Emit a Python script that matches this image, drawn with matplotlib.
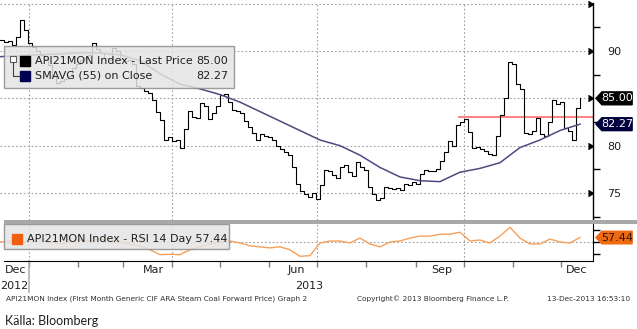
import numpy as np
import pandas as pd
import matplotlib
matplotlib.use("Agg")
import matplotlib.pyplot as plt
import matplotlib.dates as mdates
from matplotlib.patches import Polygon, Rectangle

# Periodo del grafico (datos diarios muestreados)
inicio = "2012-12-14"
fin = "2013-12-13"

# Precio API2 primer mes (USD/t)
precio = [91.2, 91.0, 91.1, 90.6, 91.5, 93.3, 92.2, 90.8, 90.4, 90.0,
          89.6, 89.2, 88.5, 87.4, 86.6, 86.8, 87.0, 87.4, 88.2, 88.6,
          89.0, 89.3, 89.6, 90.8, 90.2, 89.8, 89.3, 89.0, 90.3, 90.0,
          89.2, 88.9, 89.0, 88.6, 86.3, 86.1, 85.8, 85.6, 84.8, 83.6,
          82.7, 80.6, 80.9, 80.5, 80.6, 79.8, 81.8, 83.7, 83.0, 82.9,
          84.5, 84.2, 82.8, 83.4, 84.2, 85.3, 85.5, 84.6, 83.8, 83.7,
          83.5, 82.6, 82.0, 81.3, 80.6, 81.2, 81.0, 80.9, 80.6, 80.0,
          79.6, 79.3, 79.0, 77.8, 76.0, 75.2, 74.9, 74.6, 75.0, 74.4,
          75.8, 77.4, 77.3, 76.9, 76.6, 77.8, 78.0, 77.2, 76.8, 78.3,
          77.8, 77.4, 75.6, 74.9, 74.3, 74.5, 75.6, 75.5, 75.4, 75.5,
          75.3, 76.0, 75.8, 76.2, 75.9, 77.0, 77.4, 77.3, 77.3, 77.5,
          78.4, 79.3, 80.5, 80.0, 82.2, 82.5, 82.8, 81.4, 79.8, 79.9,
          79.7, 79.4, 79.1, 79.0, 81.0, 83.2, 85.0, 88.8, 88.6, 86.5,
          86.0, 81.3, 81.2, 81.6, 82.9, 81.2, 81.0, 82.5, 84.8, 84.4,
          84.6, 81.9, 81.5, 80.6, 84.0, 85.0]

# Media movil simple 55 dias
sma = [89.4, 89.5, 89.6, 89.7, 89.8, 89.8, 89.6, 89.0, 87.6, 86.5,
       86.0, 85.4, 84.6, 83.6, 82.6, 81.6, 80.6, 80.0, 79.0, 77.7,
       76.7, 76.3, 76.2, 77.2, 77.6, 78.2, 79.8, 80.6, 81.6, 82.27]

# RSI 14 dias
rsi = [50.0, 51.6, 48.4, 53.3, 54.9, 50.0, 46.7, 50.0, 53.3, 51.6,
       54.9, 53.3, 50.0, 46.7, 43.5, 37.0, 28.9, 29.5, 28.9, 37.0,
       41.9, 46.7, 50.0, 51.6, 48.4, 43.5, 41.9, 40.2, 42.0, 37.0,
       26.1, 27.2, 48.4, 51.6, 51.6, 48.4, 56.5, 46.7, 41.9, 50.0,
       51.6, 56.5, 59.8, 59.8, 63.0, 63.0, 66.3, 51.6, 53.3, 48.4,
       59.8, 74.4, 56.5, 46.7, 46.7, 54.9, 50.0, 48.4, 57.44]

ultimo_precio = 85.00
ultimo_sma = 82.27
ultimo_rsi = 57.44
nivel_rojo = 83.0
inicio_rojo = "2013-09-28"

ticks_precio = [75, 80, 85, 90, 95]
ticks_precio_menores = [72.5, 77.5, 82.5, 87.5, 92.5]
meses_etiquetas = ["Dec", "Mar", "Jun", "Sep", "Dec"]
meses_fechas = ["2012-12-24", "2013-03-20", "2013-06-18", "2013-09-17", "2013-12-11"]
anios = ["2012", "2013"]
anios_fechas = ["2012-12-14", "2013-06-26"]
trimestres = ["2013-01-01", "2013-04-01", "2013-07-01", "2013-10-01"]

fechas_precio = pd.date_range(inicio, fin, periods=len(precio))
fechas_sma = pd.date_range(inicio, fin, periods=len(sma))
fechas_rsi = pd.date_range(inicio, fin, periods=len(rsi))
x_min = pd.Timestamp(inicio)
x_max = pd.Timestamp(inicio) + pd.Timedelta(days=372.2)

W, H = 637, 329
fig = plt.figure(figsize=(W / 100, H / 100), dpi=100)
ax = fig.add_axes([0, 1 - 220 / H, 593 / W, 217 / H])
ax2 = fig.add_axes([0, 1 - 261 / H, 593 / W, 37 / H], sharex=ax)

gris = "#a0a0a0"
fuente = "DejaVu Sans"

# --- panel de precio ---
ax.plot(fechas_precio, precio, color="black", lw=0.8, drawstyle="steps-post", zorder=3)
ax.plot(fechas_sma, sma, color="#4b4b80", lw=1.1, zorder=3)
ax.plot([pd.Timestamp(inicio_rojo), x_max], [nivel_rojo, nivel_rojo], color="#ff6b6b", lw=1.2, zorder=2)

ax.set_xlim(x_min, x_max)
ax.set_ylim(72.15, 95.07)
for s in ["left", "top", "bottom"]:
    ax.spines[s].set_visible(False)
ax.spines["right"].set_linewidth(1)
ax.yaxis.tick_right()
ax.set_yticks([75, 80, 90])
ax.set_yticklabels(["75", "80", "90"], fontsize=8, color="#202020")
ax.tick_params(axis="y", which="major", length=0, pad=10)
ax.set_yticks(ticks_precio_menores, minor=True)
ax.tick_params(axis="y", which="minor", length=5, width=1, color="black", direction="out")
ax.tick_params(axis="x", which="both", bottom=False, labelbottom=False)
for v in ticks_precio:
    ax.axhline(v, color=gris, ls=(0, (1.5, 2)), lw=0.8, zorder=1)
for f in trimestres:
    ax.axvline(pd.Timestamp(f), color=gris, ls=(0, (1.5, 2)), lw=0.8, zorder=1)
ax.plot(np.ones(len(ticks_precio)), ticks_precio, ls="none", marker=5, ms=5, color="black",
        transform=ax.get_yaxis_transform(), clip_on=False, zorder=6)


def etiqueta_valor(eje, valor, texto, fondo, color_texto, alto):
    t = eje.get_yaxis_transform()
    x0, x1, x2 = 1.005, 1.015, 1.066
    pts = [(x0, valor), (x1, valor + alto), (x2, valor + alto), (x2, valor - alto), (x1, valor - alto)]
    eje.add_patch(Polygon(pts, closed=True, transform=t, facecolor=fondo, edgecolor=fondo,
                          clip_on=False, zorder=7))
    eje.text((x1 + x2) / 2 + 0.001, valor, texto, transform=t, ha="center", va="center",
             color=color_texto, fontsize=8, clip_on=False, zorder=8, family=fuente)


etiqueta_valor(ax, ultimo_precio, f"{ultimo_precio:.2f}", "black", "white", 0.68)
etiqueta_valor(ax, ultimo_sma, f"{ultimo_sma:.2f}", "#00003c", "white", 0.68)

# leyenda superior
ax.add_patch(Rectangle((4 / 593, (220 - 88) / 217), 230 / 593, 42 / 217, transform=ax.transAxes,
                       facecolor="#e4e4e4", edgecolor="#8c8c8c", lw=1, alpha=0.85, zorder=4))
ax.plot([13 / 593], [(220 - 59) / 217], marker="s", ms=4, mfc="white", mec="#606060", mew=0.8,
        transform=ax.transAxes, zorder=5)
ax.plot([13 / 593, 13 / 593, 19 / 593], [(220 - 62) / 217, (220 - 76) / 217, (220 - 76) / 217],
        color="#404040", lw=0.8, transform=ax.transAxes, zorder=5)
ax.plot([25 / 593], [(220 - 61) / 217], marker="s", ms=7, color="black", transform=ax.transAxes, zorder=5)
ax.plot([25 / 593], [(220 - 76) / 217], marker="s", ms=7, color="#000050", transform=ax.transAxes, zorder=5)
ax.text(35 / 593, (220 - 61) / 217, "API21MON Index - Last Price", transform=ax.transAxes,
        fontsize=8, va="center", color="#202020", zorder=5)
ax.text(228 / 593, (220 - 61) / 217, f"{ultimo_precio:.2f}", transform=ax.transAxes,
        fontsize=8, va="center", ha="right", color="#202020", zorder=5)
ax.text(35 / 593, (220 - 76) / 217, "SMAVG (55) on Close", transform=ax.transAxes,
        fontsize=8, va="center", color="#202020", zorder=5)
ax.text(228 / 593, (220 - 76) / 217, f"{ultimo_sma:.2f}", transform=ax.transAxes,
        fontsize=8, va="center", ha="right", color="#202020", zorder=5)

# --- panel RSI ---
ax2.plot(fechas_rsi, rsi, color="#f5a05a", lw=1.0, zorder=3)
ax2.set_ylim(18.3, 80)
ax2.set_xlim(x_min, x_max)
ax2.spines["left"].set_visible(False)
ax2.spines["top"].set_visible(False)
ax2.spines["bottom"].set_bounds(mdates.date2num(x_min + pd.Timedelta(days=2.5)), mdates.date2num(x_max))
ax2.yaxis.tick_right()
ax2.set_yticks([30, 50, 70])
ax2.set_yticklabels([])
ax2.tick_params(axis="y", length=5, width=1, direction="out")
ax2.axhline(50, color=gris, ls=(0, (1.5, 2)), lw=0.8, zorder=1)
for f in trimestres:
    ax2.axvline(pd.Timestamp(f), color=gris, ls=(0, (1.5, 2)), lw=0.8, zorder=1)
ax2.xaxis.set_major_locator(mdates.MonthLocator())
ax2.xaxis.set_major_formatter(plt.NullFormatter())
ax2.tick_params(axis="x", length=4, width=1, color="#808080")
for lab, f in zip(meses_etiquetas, meses_fechas):
    ax2.text(pd.Timestamp(f), -0.25, lab, transform=ax2.get_xaxis_transform(), ha="center",
             va="center", fontsize=8, color="#202020")
ax2.text(pd.Timestamp(anios_fechas[0]), -0.67, anios[0], transform=ax2.get_xaxis_transform(),
         ha="left", va="center", fontsize=8, color="#202020")
ax2.text(pd.Timestamp(anios_fechas[1]), -0.67, anios[1], transform=ax2.get_xaxis_transform(),
         ha="center", va="center", fontsize=8, color="#202020")
ax2.plot([pd.Timestamp("2013-01-01")] * 2, [0, -0.85], color="#b0b0b0", lw=1.2,
         transform=ax2.get_xaxis_transform(), clip_on=False)

etiqueta_valor(ax2, ultimo_rsi, f"{ultimo_rsi:.2f}", "#ee6a12", "#301000", 10.5)

ax2.add_patch(Rectangle((4 / 593, 12 / 37), 225 / 593, 25 / 37, transform=ax2.transAxes,
                        facecolor="#e4e4e4", edgecolor="#8c8c8c", lw=1, alpha=0.85, zorder=4,
                        clip_on=False))
ax2.plot([17 / 593], [22 / 37], marker="s", ms=7, color="#f06010", transform=ax2.transAxes, zorder=5)
ax2.text(27 / 593, 22 / 37, f"API21MON Index - RSI 14 Day {ultimo_rsi:.2f}", transform=ax2.transAxes,
         fontsize=8, va="center", color="#202020", zorder=5)

# separador gris entre paneles
fig.patches.append(Rectangle((4 / W, 1 - 224 / H), (W - 4) / W, 4 / H, transform=fig.transFigure,
                             facecolor="#a8a8a8", edgecolor="none"))

# textos de pie
fig.text(6 / W, 1 - 299 / H, "API21MON Index (First Month Generic CIF ARA Steam Coal Forward Price) Graph 2",
         fontsize=5.3, va="center", color="#303030")
fig.text(357 / W, 1 - 299 / H, "Copyright© 2013 Bloomberg Finance L.P.", fontsize=5.3, va="center", color="#303030")
fig.text(630 / W, 1 - 299 / H, "13-Dec-2013 16:53:10", fontsize=5.3, va="center", ha="right", color="#303030")
fig.text(5 / W, 1 - 321 / H, "Källa: Bloomberg", fontsize=9, va="center", color="#202020",
         family=["Lato", "DejaVu Sans"])

fig.savefig("out.png", dpi=100)
